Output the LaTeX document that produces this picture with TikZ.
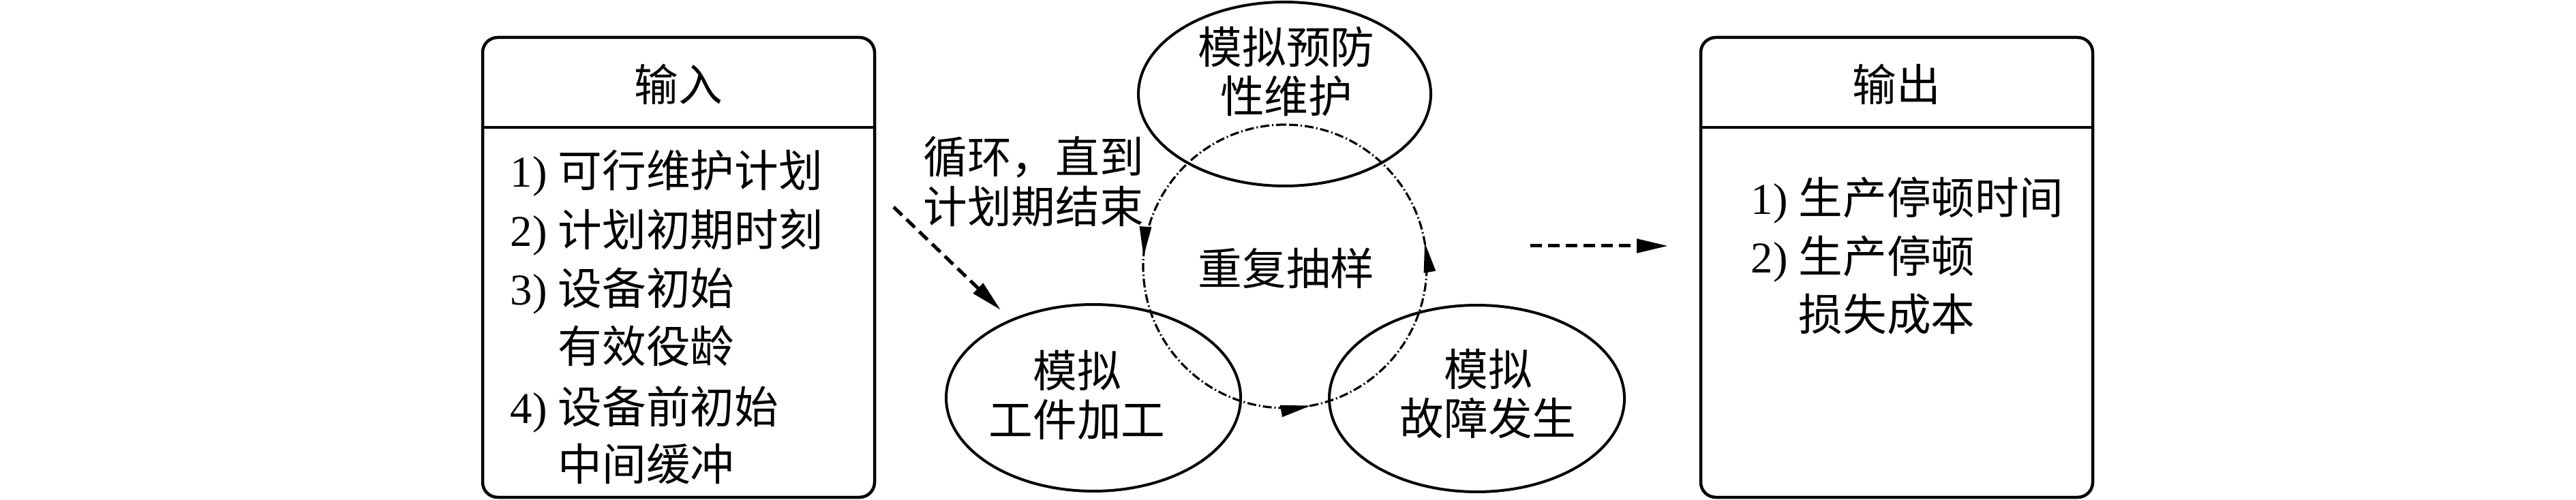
\documentclass[tikz,border=0pt]{standalone}
\usepackage{fontspec}
\setmainfont{Liberation Serif}
\newfontfamily\cjk{Noto Sans CJK SC}
\usetikzlibrary{shapes.geometric,arrows.meta,decorations.markings}
\tikzset{
  box/.style={draw, line width=0.045cm, rounded corners=0.22cm, minimum width=5.75cm, minimum height=6.75cm, inner sep=0pt},
  oval/.style={draw, ellipse, line width=0.04cm, inner sep=0pt},
  txt/.style={font=\fontsize{18.4}{20.5}\selectfont\cjk, inner sep=0pt, align=center},
  itemtext/.style={font=\fontsize{18.4}{20.5}\selectfont, inner sep=0pt, anchor=base west},
  flow/.style={line width=0.05cm, dash pattern=on 0.17cm off 0.09cm, -{Triangle[length=0.46cm,width=0.2cm]}},
  looppath/.style={line width=0.032cm, dash pattern=on 0.13cm off 0.04cm on 0.02cm off 0.04cm},
  looptip/.tip={Triangle[length=0.44cm,width=0.17cm]}
}
\begin{document}
\begin{tikzpicture}
\useasboundingbox (0,0) rectangle (37.79,7.33);

% input box
\node[box] (inbox) at (9.955,3.405) {};
\coordinate (hdiv) at (0,5.46);
\draw[line width=0.045cm] (inbox.west |- hdiv) -- (inbox.east |- hdiv);
\node[txt] (inhead) at (9.955,6.09) {输入};
\node[itemtext] (i1) at (7.48,4.58) {1) {\cjk 可行维护计划}};
\node[itemtext] (i2) at (7.48,3.71) {2) {\cjk 计划初期时刻}};
\node[itemtext] (i3) at (7.48,2.85) {3) {\cjk 设备初始}};
\node[itemtext] (i4) at (7.48,2.01) {\phantom{3)}\ {\cjk 有效役龄}};
\node[itemtext] (i5) at (7.48,1.12) {4) {\cjk 设备前初始}};
\node[itemtext] (i6) at (7.48,0.28) {\phantom{4)}\ {\cjk 中间缓冲}};

% output box
\node[box] (outbox) at (27.825,3.405) {};
\draw[line width=0.045cm] (outbox.west |- hdiv) -- (outbox.east |- hdiv);
\node[txt] (outhead) at (27.825,6.09) {输出};
\node[itemtext] (o1) at (25.68,4.18) {1) {\cjk 生产停顿时间}};
\node[itemtext] (o2) at (25.68,3.32) {2) {\cjk 生产停顿}};
\node[itemtext] (o3) at (25.68,2.48) {\phantom{2)}\ {\cjk 损失成本}};

% ellipses
\node[oval, minimum width=4.29cm, minimum height=2.70cm] (pm) at (18.845,5.95) {};
\node[oval, minimum width=4.32cm, minimum height=2.74cm] (wp) at (16.04,1.49) {};
\node[oval, minimum width=4.33cm, minimum height=2.74cm] (fo) at (21.665,1.48) {};
\node[txt] (pmt) at (18.87,6.28) {模拟预防\\性维护};
\node[txt] (wpt) at (15.80,1.53) {模拟\\工件加工};
\node[txt] (fot) at (21.83,1.55) {模拟\\故障发生};

% centre loop
\node[txt] (rs) at (18.87,3.39) {重复抽样};
\coordinate (lc) at (18.85,3.42);
\draw[looppath, postaction={decorate}, decoration={markings,
    mark=at position 0.239 with {\arrow{looptip}},
    mark=at position 0.529 with {\arrow{looptip}},
    mark=at position 0.777 with {\arrow{looptip}}}]
  ([shift={(90:2.08)}]lc) arc[start angle=90, end angle=450, radius=2.08];

\node[txt, align=left] (loopl) at (15.16,4.665) {循环，直到\\计划期结束};

% dashed arrows
\coordinate (la1) at (13.11,4.29);
\coordinate (la2) at (14.68,2.78);
\draw[flow] (la1) -- (la2);
\coordinate (ra1) at (22.45,3.72);
\coordinate (ra2) at (24.47,3.72);
\draw[flow] (ra1) -- (ra2);
\end{tikzpicture}
\end{document}
